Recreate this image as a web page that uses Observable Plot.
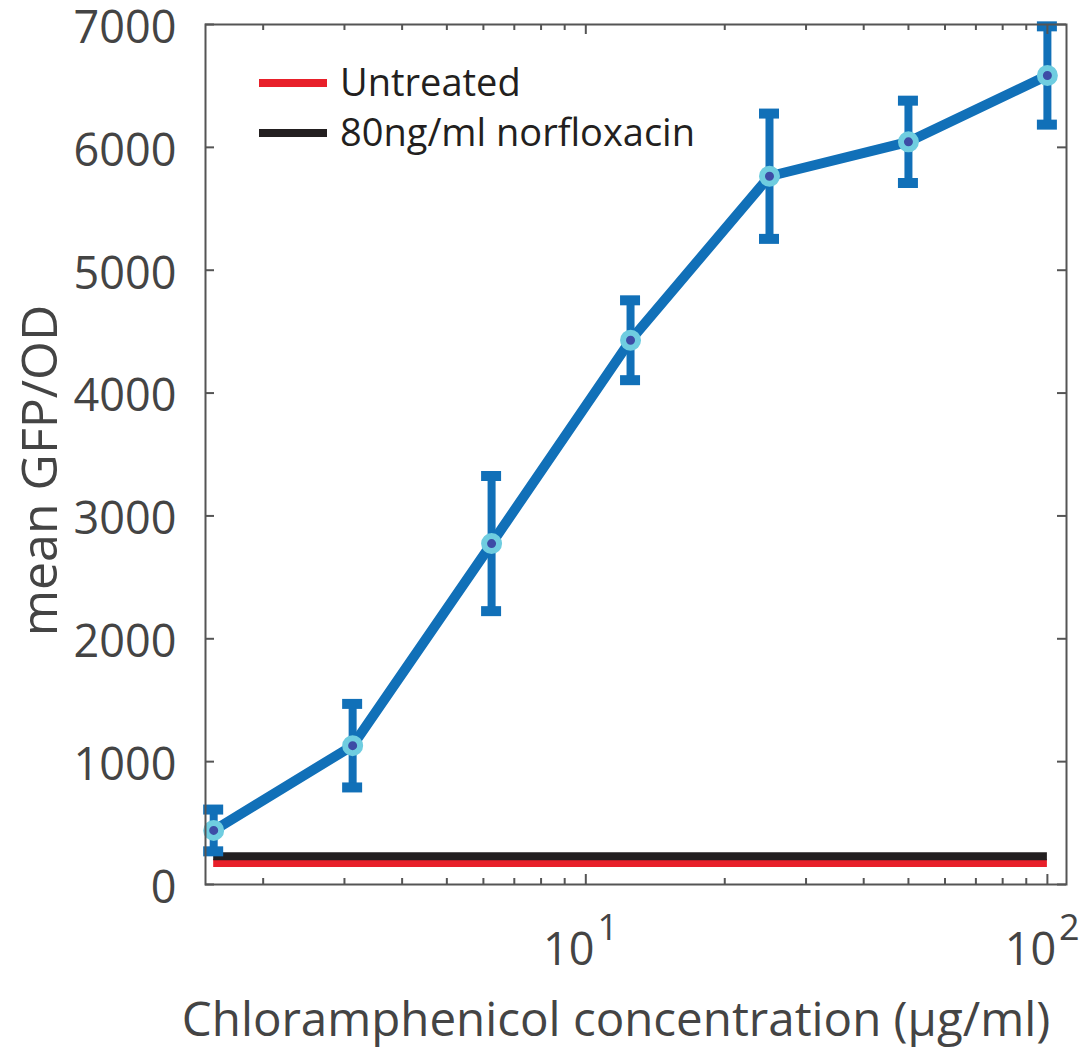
<!DOCTYPE html>
<html>
<head>
<meta charset="utf-8">
<script src="https://cdn.jsdelivr.net/npm/d3@7"></script>
<script src="https://cdn.jsdelivr.net/npm/@observablehq/plot@0.6"></script>
<style>
  body { margin: 0; background: #fff; }
  #chart svg { font-family: "Open Sans", sans-serif; }
</style>
</head>
<body>
<div id="chart"></div>
<script>
// Chloramphenicol dose series (µg/ml) and reporter response
const concentrations = [1.5625, 3.125, 6.25, 12.5, 25, 50, 100];
const meanGfp = [440, 1130, 2775, 4430, 5765, 6045, 6585];
const errGfp = [170, 340, 550, 325, 510, 335, 400];

// Reference levels, drawn across the dose range
const untreatedLevel = 175;
const norfloxacinLevel = 230;
const legendLabels = ["Untreated", "80ng/ml norfloxacin"];

// Axis ticks and labels
const yTicks = [0, 1000, 2000, 3000, 4000, 5000, 6000, 7000];
const xMajor = [10, 100];
const xExponents = ["1", "2"];
const xMinor = [2, 3, 4, 5, 6, 7, 8, 9, 20, 30, 40, 50, 60, 70, 80, 90];
const xLabel = "Chloramphenicol concentration (µg/ml)";
const yLabel = "mean GFP/OD";

const rows = concentrations.map((c, i) => ({c, m: meanGfp[i], lo: meanGfp[i] - errGfp[i], hi: meanGfp[i] + errGfp[i]}));

const W = 1088, H = 1050;
const mL = 205, mR = 22, mT = 24, mB = 166;
const fw = W - mL - mR, fh = H - mT - mB;

const blue = "#1170b8";
const axisGray = "#555555";
const textGray = "#444444";

const chart = Plot.plot({
  width: W,
  height: H,
  marginLeft: mL,
  marginRight: mR,
  marginTop: mT,
  marginBottom: mB,
  x: {type: "log", domain: [1.5, 110], axis: null},
  y: {domain: [0, 7000], axis: null},
  marks: [
    // reference levels
    Plot.ruleY([untreatedLevel], {x1: concentrations[0], x2: concentrations[concentrations.length - 1], stroke: "#e8202a", strokeWidth: 8}),
    Plot.ruleY([norfloxacinLevel], {x1: concentrations[0], x2: concentrations[concentrations.length - 1], stroke: "#231f20", strokeWidth: 8}),
    // error bars with caps
    Plot.ruleX(rows, {x: "c", y1: "lo", y2: "hi", stroke: blue, strokeWidth: 8}),
    Plot.ruleY(rows, {x1: "c", x2: "c", y: "hi", insetLeft: -10, insetRight: -10, stroke: blue, strokeWidth: 10}),
    Plot.ruleY(rows, {x1: "c", x2: "c", y: "lo", insetLeft: -10, insetRight: -10, stroke: blue, strokeWidth: 10}),
    // mean response
    Plot.line(rows, {x: "c", y: "m", stroke: blue, strokeWidth: 10}),
    Plot.dot(rows, {x: "c", y: "m", r: 7.5, fill: "#3d4ca6", stroke: "#6fcde0", strokeWidth: 6}),
    // box and inward ticks
    Plot.frame({stroke: axisGray, strokeWidth: 2}),
    Plot.tickX(xMinor, {x: d => d, insetTop: fh - 6, stroke: axisGray, strokeWidth: 2}),
    Plot.tickX(xMinor, {x: d => d, insetBottom: fh - 6, stroke: axisGray, strokeWidth: 2}),
    Plot.tickX(xMajor, {x: d => d, insetTop: fh - 10, stroke: axisGray, strokeWidth: 2}),
    Plot.tickX(xMajor, {x: d => d, insetBottom: fh - 10, stroke: axisGray, strokeWidth: 2}),
    Plot.tickY(yTicks, {y: d => d, insetRight: fw - 9, stroke: axisGray, strokeWidth: 2}),
    Plot.tickY(yTicks, {y: d => d, insetLeft: fw - 9, stroke: axisGray, strokeWidth: 2}),
    // tick labels
    Plot.text(yTicks, {y: d => d, frameAnchor: "left", text: d => String(d), textAnchor: "end", lineAnchor: "middle", dx: -29, dy: 4, fontSize: 45, fill: textGray}),
    Plot.text(xMajor, {x: d => d, frameAnchor: "bottom", text: () => "10", textAnchor: "middle", lineAnchor: "middle", dx: -17, dy: 66, fontSize: 45, fill: textGray}),
    Plot.text(xMajor, {x: d => d, frameAnchor: "bottom", text: (d, i) => xExponents[i], textAnchor: "middle", lineAnchor: "middle", dx: 22, dy: 44, fontSize: 36, fill: textGray}),
    // axis titles
    Plot.text([xLabel], {frameAnchor: "bottom", text: d => d, textAnchor: "middle", lineAnchor: "middle", dx: -20, dy: 136, fontSize: 47.5, fill: textGray}),
    Plot.text([yLabel], {frameAnchor: "left", text: d => d, textAnchor: "middle", lineAnchor: "middle", rotate: -90, dx: -165, dy: 16, fontSize: 50, fill: textGray})
  ]
});

// Legend inside the upper-left corner of the axes box
const svg = d3.select(chart);
const legendColors = ["#e8202a", "#231f20"];
const lg = svg.append("g").attr("transform", "translate(259, 83)");
legendLabels.forEach((label, i) => {
  const row = lg.append("g").attr("transform", `translate(0, ${i * 50})`);
  row.append("line").attr("x1", 0).attr("x2", 68).attr("y1", 0).attr("y2", 0)
    .attr("stroke", legendColors[i]).attr("stroke-width", 8);
  row.append("text").attr("x", 81).attr("y", 0).attr("dy", "0.35em")
    .attr("text-anchor", "start")
    .attr("font-size", 38).attr("fill", "#231f20").text(label);
});

document.getElementById("chart").appendChild(chart);
</script>
</body>
</html>
